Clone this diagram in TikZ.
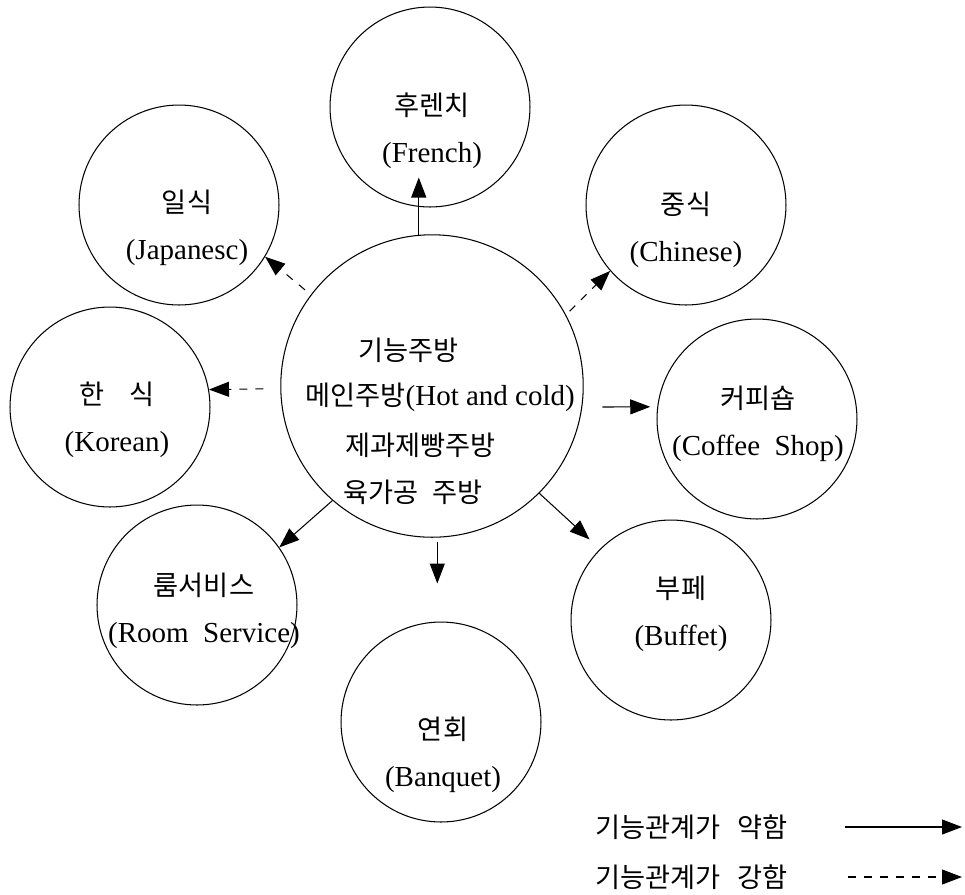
\documentclass[tikz,border=0pt]{standalone}
\usepackage{fontspec}
\setmainfont{Liberation Serif}
\newfontfamily\krfont{Noto Sans CJK KR}
\newcommand{\hangul}[1]{{\krfont\fontsize{15.5}{26.7}\selectfont #1}}
\usetikzlibrary{arrows.meta}
\tikzset{
  kitchen/.style={circle,draw,minimum size=#1,inner sep=0pt},
  kitchen/.default=4cm,
  caption/.style={align=center,inner sep=0pt,font=\fontsize{16.5}{26.7}\selectfont},
  weak link/.style={-{Triangle[length=0.4cm,width=0.3cm]}},
  strong link/.style={weak link,dash pattern=on 0.16cm off 0.16cm},
  every picture/.style={line width=0.6pt},
}

\begin{document}
\begin{tikzpicture}[x=0.02cm,y=-0.02cm]
  \useasboundingbox (0,0) rectangle (965,894);
  % the kitchens
  \node[kitchen=6.05cm] (main) at (432,386){};
  \node[kitchen] (french) at (430,107){};
  \node[kitchen] (japan) at (179,205){};
  \node[kitchen] (chinese) at (686,205){};
  \node[kitchen] (korean) at (110,407){};
  \node[kitchen] (coffee) at (757,419){};
  \node[kitchen] (room) at (197,605){};
  \node[kitchen] (buffet) at (671,620){};
  \node[kitchen] (banquet) at (441,722){};

  % texts
  \node[caption,anchor=west] (mainA) at (358,350){\hangul{기능주방}};
  \node[caption,anchor=west] (mainB) at (305,397){\hangul{메인주방}(Hot\ and\ cold)};
  \node[caption,anchor=west] (mainC) at (345,445){\hangul{제과제빵주방}};
  \node[caption,anchor=west] (mainD) at (343,492){\hangul{육가공\hspace{0.5em}주방}};
  \node[caption] (frenchTxt) at (432,131){\hangul{후렌치}\\(French)};
  \node[caption] (japanTxt) at (187,228){\hangul{일식}\\(Japanesc)};
  \node[caption] (chineseTxt) at (686,230){\hangul{중식}\\(Chinese)};
  \node[caption] (koreanTxt) at (117,420){\hangul{한\hspace{0.9em}식}\\(Korean)};
  \node[caption] (coffeeTxt) at (758,424){\hangul{커피숍}\\(Coffee\ \ Shop)};
  \node[caption] (roomTxt) at (204,611){\hangul{룸서비스}\\(Room\ \ Service)};
  \node[caption] (buffetTxt) at (681,614){\hangul{부페}\\(Buffet)};
  \node[caption] (banquetTxt) at (443,755){\hangul{연회}\\(Banquet)};

  % links
  \draw[weak link,shorten >=-0.6cm] (main.95) -- (main.95 |- french.south);
  \draw[strong link,shorten <=0.15cm] (main.143) -- (japan.-31);
  \draw[strong link,shorten <=0.1cm] (main.28) -- (chinese.221);
  \draw[strong link,shorten <=0.34cm] (main.181) -- (korean.10);
  \draw[weak link,shorten <=0.4cm,shorten >=0.14cm] (main.-8) -- (coffee.173);
  \draw[weak link] (main.229) -- (room.35);
  \draw[weak link,shorten >=0.28cm] (main.-45) -- (buffet.135);
  \draw[weak link,shorten <=0.08cm,shorten >=0.76cm] (main.272) -- (main.272 |- banquet.north);

  % legend
  \node[caption,anchor=west] (weakTxt) at (595,827){\hangul{기능관계가\hspace{0.6em}약함}};
  \node[caption,anchor=west] (strongTxt) at (595,877){\hangul{기능관계가\hspace{0.6em}강함}};
  \coordinate (weakA) at (845,827);
  \coordinate (weakB) at (962,827);
  \coordinate (strongA) at (848,877);
  \coordinate (strongB) at (962,877);
  \draw[weak link] (weakA) -- (weakB);
  \draw[strong link] (strongA) -- (strongB);
\end{tikzpicture}
\end{document}
